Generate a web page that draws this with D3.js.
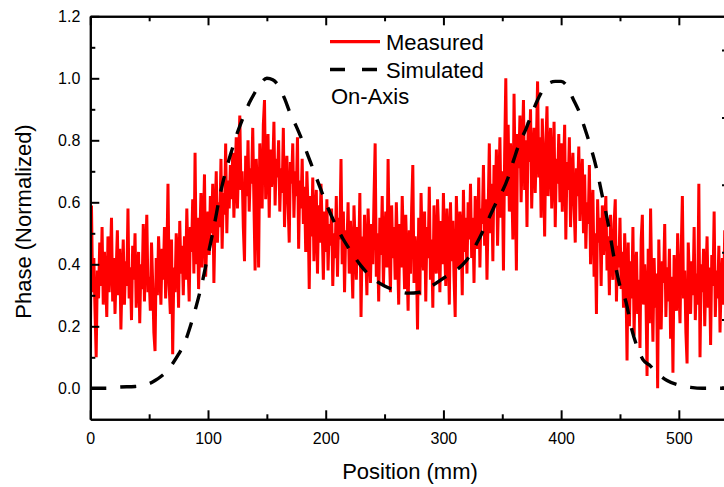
<!DOCTYPE html>
<html>
<head>
<meta charset="utf-8">
<script src="https://cdn.jsdelivr.net/npm/d3@7"></script>
<style>
  html, body { margin: 0; padding: 0; background: #fff; }
  svg { display: block; }
  text { font-family: "Liberation Sans", Arial, sans-serif; fill: #000; }
</style>
</head>
<body>
<svg id="chart" width="724" height="487"></svg>
<script>
// ---------------- DATA ----------------
const xTicksMajor = [0, 100, 200, 300, 400, 500];
const xTicksMinor = [50, 150, 250, 350, 450];
const yTicksMajor = [0.0, 0.2, 0.4, 0.6, 0.8, 1.0, 1.2];
const yTicksMinor = [0.1, 0.3, 0.5, 0.7, 0.9, 1.1];
const sideTicks = [0, 1, 2, 3, 4, 5];

const seriesNames = ["Measured", "Simulated"];
const annotation = "On-Axis";

// Measured phase, one sample per mm starting at 0 mm
const measuredStart = 0;
const measuredStep = 1;
const measuredPhase = [
0.13,0.59,0.31,0.42,0.25,0.10,0.38,0.29,0.47,0.33,0.52,0.27,0.44,0.36,0.23,0.49,0.31,0.40,0.55,0.28,
0.42,0.24,0.38,0.51,0.30,0.45,0.19,0.36,0.48,0.27,0.41,0.33,0.58,0.29,0.39,0.22,0.46,0.35,0.50,0.26,
0.37,0.44,0.21,0.40,0.32,0.53,0.28,0.43,0.56,0.31,0.36,0.25,0.47,0.34,0.18,0.12,0.42,0.30,0.49,0.38,
0.27,0.45,0.35,0.52,0.29,0.41,0.66,0.33,0.24,0.48,0.11,0.39,0.31,0.50,0.43,0.26,0.54,0.37,0.46,0.30,
0.49,0.35,0.58,0.41,0.28,0.52,0.44,0.61,0.37,0.76,0.40,0.55,0.32,0.47,0.63,0.39,0.51,0.69,0.36,0.48,
0.57,0.43,0.62,0.50,0.66,0.34,0.55,0.70,0.47,0.60,0.52,0.74,0.45,0.63,0.56,0.79,0.50,0.67,0.58,0.72,
0.61,0.76,0.55,0.69,0.81,0.58,0.73,0.88,0.64,0.70,0.52,0.41,0.75,0.62,0.80,0.57,0.71,0.66,0.84,0.60,
0.38,0.74,0.63,0.39,0.79,0.67,0.58,0.85,0.93,0.61,0.72,0.82,0.55,0.77,0.65,0.70,0.86,0.59,0.74,0.68,
0.80,0.57,0.71,0.63,0.84,0.52,0.68,0.75,0.60,0.47,0.73,0.66,0.79,0.55,0.70,0.62,0.81,0.45,0.67,0.58,
0.74,0.53,0.65,0.44,0.70,0.58,0.32,0.62,0.49,0.68,0.41,0.56,0.64,0.37,0.59,0.47,0.66,0.52,0.35,0.57,
0.44,0.61,0.38,0.53,0.46,0.58,0.33,0.50,0.42,0.62,0.36,0.55,0.48,0.74,0.40,0.57,0.31,0.51,0.45,0.60,
0.37,0.54,0.43,0.29,0.59,0.47,0.35,0.52,0.41,0.63,0.23,0.49,0.38,0.56,0.44,0.30,0.58,0.46,0.34,0.53,
0.40,0.61,0.79,0.36,0.50,0.28,0.55,0.43,0.62,0.33,0.48,0.57,0.39,0.74,0.45,0.31,0.59,0.42,0.52,0.35,
0.60,0.44,0.27,0.53,0.39,0.62,0.47,0.32,0.56,0.41,0.25,0.51,0.37,0.58,0.72,0.34,0.49,0.43,0.19,0.55,
0.30,0.63,0.46,0.38,0.57,0.28,0.52,0.42,0.65,0.35,0.48,0.26,0.59,0.44,0.37,0.61,0.50,0.31,0.54,0.40,
0.63,0.45,0.33,0.58,0.49,0.27,0.60,0.41,0.54,0.36,0.23,0.62,0.47,0.39,0.57,0.51,0.30,0.64,0.44,0.55,
0.37,0.60,0.48,0.66,0.42,0.55,0.34,0.62,0.51,0.45,0.68,0.39,0.58,0.53,0.72,0.46,0.61,0.35,0.57,0.79,
0.50,0.66,0.41,0.72,0.59,0.77,0.46,0.64,0.81,0.55,0.70,0.38,0.75,1.00,0.62,0.85,0.57,0.79,0.68,0.48,
0.95,0.66,0.38,0.82,0.71,0.88,0.60,0.77,0.93,0.64,0.80,0.52,0.86,0.73,0.90,0.58,0.76,0.84,0.63,0.79,
0.99,0.68,0.81,0.55,0.87,0.72,0.49,0.78,0.91,0.62,0.75,0.84,0.58,0.70,0.86,0.52,0.74,0.66,0.82,0.60,
0.79,0.57,0.70,0.85,0.48,0.73,0.64,0.81,0.52,0.68,0.76,0.59,0.47,0.71,0.62,0.78,0.54,0.66,0.74,0.50,
0.69,0.45,0.60,0.53,0.72,0.40,0.57,0.64,0.36,0.50,0.24,0.61,0.47,0.55,0.33,0.59,0.43,0.52,0.62,0.38,
0.49,0.30,0.56,0.42,0.35,0.53,0.61,0.28,0.46,0.39,0.55,0.32,0.44,0.26,0.50,0.37,0.09,0.47,0.20,0.41,
0.29,0.52,0.17,0.38,0.44,0.24,0.35,0.13,0.48,0.56,0.27,0.40,0.31,0.04,0.45,0.21,0.58,0.33,0.15,0.42,
0.26,0.37,0.00,0.48,0.30,0.19,0.41,0.34,0.53,0.23,0.39,0.28,0.45,0.16,0.36,0.05,0.43,0.31,0.25,0.50,
0.33,0.21,0.44,0.62,0.29,0.38,0.18,0.08,0.47,0.35,0.24,0.41,0.30,0.52,0.22,0.37,0.27,0.66,0.10,0.40,
0.31,0.45,0.20,0.36,0.49,0.26,0.39,0.14,0.43,0.33,0.57,0.23,0.38,0.29,0.46,0.18,0.35,0.42,0.27,0.51,
0.30,0.37,0.22,0.44,0.33,0.28
];

// Simulated phase
const simPos = [0,13,25,38,50,55,60,65,70,75,80,85,90,95,100,105,110,115,120,125,130,135,140,145,150,155,160,165,170,175,180,185,190,195,200,205,210,215,220,230,240,250,260,270,280,290,300,310,320,330,340,345,350,355,360,365,370,375,380,385,390,395,400,405,410,415,420,425,430,435,440,445,450,455,460,465,470,475,480,490,500,510,520,545];
const simPhase = [0,0,0.004,0.006,0.015,0.025,0.038,0.055,0.08,0.11,0.145,0.2,0.265,0.34,0.43,0.52,0.62,0.70,0.765,0.825,0.875,0.92,0.955,0.985,1.0,0.995,0.975,0.935,0.885,0.845,0.80,0.75,0.70,0.65,0.60,0.555,0.515,0.48,0.45,0.395,0.355,0.33,0.315,0.307,0.31,0.33,0.355,0.378,0.415,0.48,0.56,0.60,0.635,0.68,0.74,0.795,0.835,0.885,0.93,0.965,0.985,0.99,0.99,0.975,0.935,0.895,0.84,0.78,0.71,0.62,0.53,0.42,0.33,0.28,0.19,0.13,0.09,0.075,0.055,0.025,0.01,0.003,0,0];

// ---------------- CHART ----------------
const svg = d3.select("#chart");
const W = 724, H = 487;
svg.append("rect").attr("width", W).attr("height", H).attr("fill", "#fff");

const x = d3.scaleLinear().domain([0, 545]).range([90.3, 731.8]);
const y = d3.scaleLinear().domain([-0.1, 1.2]).range([419.3, 16.3]);
const ySide = d3.scaleLinear().domain([0, 5]).range([387, 50]);

const pLeft = x.range()[0], pRight = x.range()[1];
const pTop = y.range()[1], pBottom = y.range()[0];

svg.append("clipPath").attr("id", "plotclip")
  .append("rect").attr("x", pLeft).attr("y", pTop).attr("width", pRight - pLeft).attr("height", pBottom - pTop);

const plot = svg.append("g").attr("clip-path", "url(#plotclip)");

const measured = measuredPhase.map((v, i) => [measuredStart + i * measuredStep, v]);
const simulated = simPos.map((p, i) => [p, simPhase[i]]);

plot.append("path")
  .datum(measured)
  .attr("fill", "none")
  .attr("stroke", "#ff0000")
  .attr("stroke-width", 3)
  .attr("d", d3.line().x(d => x(d[0])).y(d => y(d[1])));

plot.append("path")
  .datum(simulated)
  .attr("fill", "none")
  .attr("stroke", "#000")
  .attr("stroke-width", 3.4)
  .attr("stroke-dasharray", "16,14")
  .attr("d", d3.line().curve(d3.curveMonotoneX).x(d => x(d[0])).y(d => y(d[1])));

// Axes
function styleAxis(g) {
  g.select(".domain").attr("stroke", "#000").attr("stroke-width", 2);
  g.selectAll(".tick line").attr("stroke", "#000").attr("stroke-width", 2);
  g.selectAll(".tick text").attr("font-size", 16).attr("fill", "#000")
    .attr("font-family", '"Liberation Sans", Arial, sans-serif');
}

// bottom
svg.append("g").attr("transform", `translate(0,${pBottom})`)
  .call(d3.axisBottom(x).tickValues(xTicksMajor).tickSize(-9).tickSizeOuter(0).tickPadding(13).tickFormat(d3.format("d")))
  .call(styleAxis);
svg.append("g").attr("transform", `translate(0,${pBottom})`)
  .call(d3.axisBottom(x).tickValues(xTicksMinor).tickSize(-5).tickSizeOuter(0).tickFormat(""))
  .call(styleAxis);
// top
svg.append("g").attr("transform", `translate(0,${pTop})`)
  .call(d3.axisTop(x).tickValues(xTicksMajor).tickSize(-9).tickSizeOuter(0).tickFormat(""))
  .call(styleAxis);
svg.append("g").attr("transform", `translate(0,${pTop})`)
  .call(d3.axisTop(x).tickValues(xTicksMinor).tickSize(-5).tickSizeOuter(0).tickFormat(""))
  .call(styleAxis);
// left
svg.append("g").attr("transform", `translate(${pLeft},0)`)
  .call(d3.axisLeft(y).tickValues(yTicksMajor).tickSize(-9).tickSizeOuter(0).tickPadding(10).tickFormat(d3.format(".1f")))
  .call(styleAxis);
svg.append("g").attr("transform", `translate(${pLeft},0)`)
  .call(d3.axisLeft(y).tickValues(yTicksMinor).tickSize(-5).tickSizeOuter(0).tickFormat(""))
  .call(styleAxis);
// right-edge marks (neighbouring axis, mostly off-canvas)
svg.append("g").attr("transform", `translate(${pRight - 0.8},0)`)
  .call(d3.axisLeft(ySide).tickValues(sideTicks).tickSize(9).tickSizeOuter(0).tickFormat(""))
  .call(styleAxis);

// Axis titles
svg.append("text")
  .attr("x", 410).attr("y", 479)
  .attr("text-anchor", "middle").attr("font-size", 22)
  .text("Position (mm)");
svg.append("text")
  .attr("transform", "translate(30.5,221.5) rotate(-90)")
  .attr("text-anchor", "middle").attr("font-size", 22)
  .text("Phase (Normalized)");

// Legend
const legend = svg.append("g");
legend.append("line").attr("x1", 330).attr("x2", 380).attr("y1", 41.7).attr("y2", 41.7)
  .attr("stroke", "#ff0000").attr("stroke-width", 3.2);
legend.append("text").attr("x", 386).attr("y", 49.5).attr("font-size", 22).text(seriesNames[0]);
legend.append("line").attr("x1", 330).attr("x2", 378).attr("y1", 69.5).attr("y2", 69.5)
  .attr("stroke", "#000").attr("stroke-width", 3.4).attr("stroke-dasharray", "15,17");
legend.append("text").attr("x", 386).attr("y", 77.5).attr("font-size", 22).text(seriesNames[1]);
legend.append("text").attr("x", 331).attr("y", 104).attr("font-size", 22).text(annotation);
</script>
</body>
</html>
